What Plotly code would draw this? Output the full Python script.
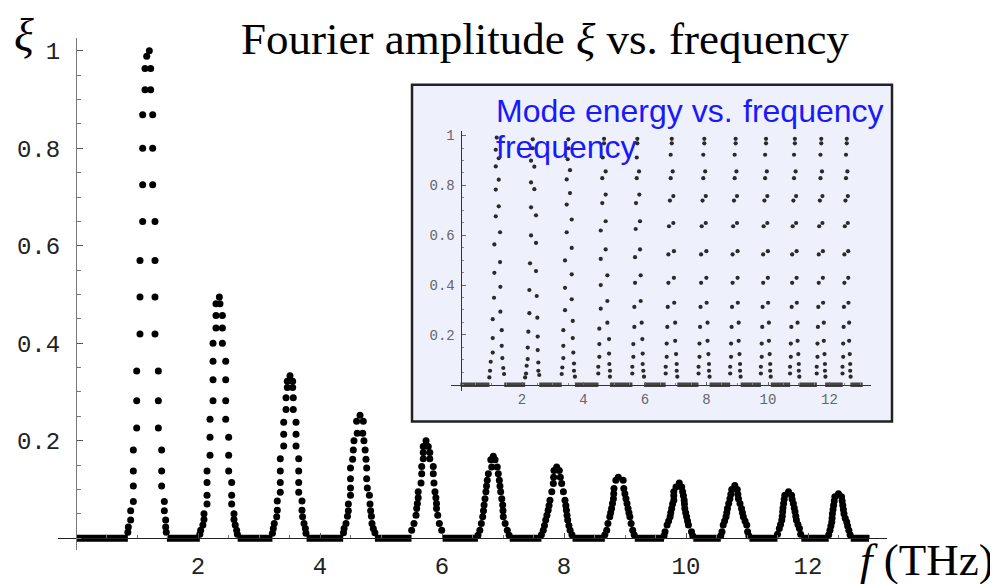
import plotly.graph_objects as go

# ---------------- main plot data (Fourier amplitude xi vs f in THz) ----------------
# each peak: levels (y) with the left-flank x and right-flank x of the dot at that level
main_y = [
    [1.0, 0.989, 0.964, 0.920, 0.869, 0.800, 0.725, 0.650, 0.570, 0.495, 0.419, 0.343, 0.282, 0.226, 0.181, 0.138, 0.107, 0.075, 0.056, 0.037, 0.023, 0.012],
    [0.495, 0.481, 0.457, 0.431, 0.400, 0.363, 0.325, 0.282, 0.244, 0.207, 0.170, 0.138, 0.114, 0.088, 0.070, 0.050, 0.038, 0.027, 0.016, 0.008],
    [0.333, 0.322, 0.309, 0.288, 0.264, 0.238, 0.213, 0.189, 0.163, 0.138, 0.114, 0.094, 0.076, 0.057, 0.044, 0.030, 0.020, 0.010],
    [0.252, 0.240, 0.215, 0.200, 0.181, 0.162, 0.144, 0.122, 0.103, 0.088, 0.070, 0.056, 0.045, 0.030, 0.020, 0.011],
    [0.200, 0.188, 0.176, 0.163, 0.147, 0.132, 0.113, 0.095, 0.083, 0.071, 0.061, 0.047, 0.030, 0.016],
    [0.168, 0.161, 0.146, 0.132, 0.119, 0.107, 0.095, 0.081, 0.068, 0.056, 0.044, 0.030, 0.016, 0.006],
    [0.146, 0.139, 0.125, 0.112, 0.095, 0.078, 0.067, 0.057, 0.047, 0.037, 0.026, 0.016, 0.007],
    [0.125, 0.119, 0.102, 0.091, 0.081, 0.071, 0.061, 0.052, 0.044, 0.030, 0.016, 0.007],
    [0.113, 0.105, 0.095, 0.087, 0.078, 0.070, 0.061, 0.052, 0.044, 0.035, 0.027, 0.013, 0.005],
    [0.108, 0.100, 0.090, 0.081, 0.071, 0.061, 0.052, 0.044, 0.035, 0.027, 0.013, 0.005],
    [0.095, 0.088, 0.080, 0.071, 0.062, 0.054, 0.045, 0.037, 0.028, 0.020, 0.008],
    [0.091, 0.085, 0.076, 0.0675, 0.059, 0.050, 0.041, 0.033, 0.025, 0.016, 0.007],
]
main_xl = [
    [1.202, 1.159, 1.131, 1.131, 1.093, 1.093, 1.093, 1.093, 1.049, 1.049, 1.049, 0.995, 0.995, 0.995, 0.94, 0.94, 0.94, 0.94, 0.896, 0.896, 0.858, 0.85],
    [2.35, 2.295, 2.295, 2.295, 2.246, 2.246, 2.246, 2.246, 2.197, 2.197, 2.197, 2.148, 2.148, 2.148, 2.148, 2.098, 2.098, 2.08, 2.044, 2.03],
    [3.508, 3.464, 3.464, 3.443, 3.443, 3.405, 3.405, 3.405, 3.349, 3.349, 3.349, 3.349, 3.30, 3.30, 3.29, 3.25, 3.235, 3.22],
    [4.656, 4.60, 4.61, 4.557, 4.546, 4.535, 4.50, 4.50, 4.50, 4.50, 4.465, 4.465, 4.45, 4.426, 4.395, 4.385],
    [5.738, 5.693, 5.693, 5.693, 5.667, 5.667, 5.656, 5.61, 5.61, 5.596, 5.585, 5.574, 5.541, 5.503],
    [6.841, 6.80, 6.815, 6.76, 6.742, 6.73, 6.72, 6.705, 6.69, 6.68, 6.667, 6.645, 6.62, 6.59],
    [7.88, 7.836, 7.83, 7.825, 7.80, 7.77, 7.755, 7.74, 7.72, 7.70, 7.68, 7.66, 7.63],
    [8.89, 8.85, 8.82, 8.815, 8.81, 8.795, 8.78, 8.765, 8.75, 8.72, 8.70, 8.67],
    [9.89, 9.836, 9.80, 9.80, 9.80, 9.78, 9.765, 9.75, 9.74, 9.715, 9.69, 9.656, 9.64],
    [10.80, 10.75, 10.735, 10.72, 10.70, 10.68, 10.668, 10.656, 10.633, 10.61, 10.59, 10.57],
    [11.68, 11.62, 11.61, 11.60, 11.59, 11.585, 11.578, 11.57, 11.55, 11.53, 11.50],
    [12.50, 12.44, 12.43, 12.42, 12.41, 12.40, 12.395, 12.39, 12.375, 12.36, 12.34],
]
main_xr = [
    [None, None, 1.224, 1.224, 1.257, 1.257, 1.257, 1.295, 1.295, 1.295, 1.295, 1.35, 1.35, 1.35, 1.404, 1.404, 1.404, 1.448, 1.448, 1.47, 1.47, 1.48],
    [None, 2.36, 2.40, 2.40, 2.40, 2.454, 2.454, 2.454, 2.454, 2.503, 2.503, 2.503, 2.552, 2.552, 2.552, 2.59, 2.59, 2.61, 2.634, 2.645],
    [None, 3.552, 3.552, 3.562, 3.562, 3.607, 3.607, 3.607, 3.651, 3.651, 3.651, 3.651, 3.705, 3.705, 3.715, 3.738, 3.76, 3.77],
    [None, 4.71, 4.70, 4.72, 4.74, 4.754, 4.765, 4.765, 4.776, 4.81, 4.82, 4.83, 4.843, 4.852, 4.874, 4.90],
    [None, 5.775, 5.80, 5.80, 5.857, 5.857, 5.868, 5.885, 5.90, 5.91, 5.91, 5.93, 5.956, 5.995],
    [None, 6.87, 6.906, 6.923, 6.94, 6.95, 6.962, 6.98, 6.995, 7.0, 7.005, 7.035, 7.07, 7.10],
    [None, 7.923, 7.94, 7.962, 7.99, 8.016, 8.03, 8.04, 8.05, 8.06, 8.08, 8.10, 8.13],
    [None, 8.97, 8.98, 8.998, 9.016, 9.033, 9.05, 9.065, 9.08, 9.10, 9.126, 9.15],
    [None, 9.93, 9.945, 9.958, 9.97, 9.975, 9.98, 9.995, 10.01, 10.025, 10.04, 10.09, 10.11],
    [None, 10.84, 10.85, 10.86, 10.885, 10.91, 10.925, 10.94, 10.968, 10.995, 11.01, 11.03],
    [None, 11.73, 11.74, 11.76, 11.775, 11.787, 11.80, 11.81, 11.835, 11.86, 11.88],
    [None, 12.55, 12.56, 12.57, 12.58, 12.59, 12.61, 12.635, 12.65, 12.67, 12.69],
]
# flat (xi ~ 0) stretches between the peaks
base_start = [0.0, 1.49, 2.65, 3.78, 4.90, 6.01, 7.11, 8.14, 9.16, 10.12, 11.04, 11.89, 12.70]
base_end = [0.85, 2.03, 3.22, 4.38, 5.50, 6.59, 7.63, 8.67, 9.64, 10.57, 11.50, 12.34, 13.0]

main_xticks = [2, 4, 6, 8, 10, 12]
main_yticks = [0.2, 0.4, 0.6, 0.8, 1]
main_ytext = ["0.2", "0.4", "0.6", "0.8", "1"]

# ---------------- inset data (mode energy vs frequency, normalised) ----------------
ins1_x = [1.177, 1.145, 1.242, 1.145, 1.242, 1.145, 1.242, 1.145, 1.285, 1.10, 1.285, 1.10, 1.295, 1.089, 1.295, 1.047, 1.34, 1.047, 1.34, 1.047, 1.36, 0.982, 1.39, 0.96, 1.415, 0.937]
ins1_y = [0.992, 0.943, 0.909, 0.876, 0.823, 0.783, 0.716, 0.676, 0.612, 0.563, 0.492, 0.449, 0.393, 0.349, 0.293, 0.263, 0.219, 0.187, 0.156, 0.129, 0.107, 0.092, 0.067, 0.056, 0.043, 0.029]
ins2_x = [2.348, 2.348, 2.293, 2.40, 2.293, 2.40, 2.293, 2.455, 2.293, 2.455, 2.26, 2.455, 2.238, 2.478, 2.238, 2.498, 2.205, 2.51, 2.185, 2.51, 2.185, 2.53, 2.15, 2.53, 2.13, 2.56, 2.10]
ins2_y = [0.985, 0.949, 0.899, 0.875, 0.812, 0.785, 0.712, 0.68, 0.599, 0.569, 0.487, 0.456, 0.38, 0.356, 0.287, 0.269, 0.213, 0.193, 0.149, 0.139, 0.103, 0.089, 0.076, 0.056, 0.045, 0.039, 0.029]
ins3_x = [3.507, 3.507, 3.485, 3.56, 3.453, 3.56, 3.453, 3.616, 3.453, 3.616, 3.398, 3.616, 3.398, 3.616, 3.398, 3.65, 3.343, 3.65, 3.343, 3.668, 3.343, 3.69, 3.31, 3.69, 3.29, 3.72]
ins3_y = [0.985, 0.949, 0.905, 0.861, 0.824, 0.769, 0.723, 0.663, 0.612, 0.549, 0.499, 0.443, 0.389, 0.343, 0.299, 0.256, 0.219, 0.187, 0.156, 0.129, 0.107, 0.085, 0.069, 0.056, 0.043, 0.032]
ins4_x = [4.667, 4.667, 4.624, 4.72, 4.61, 4.72, 4.61, 4.72, 4.56, 4.72, 4.56, 4.775, 4.56, 4.775, 4.56, 4.775, 4.514, 4.83, 4.514, 4.83, 4.514, 4.84, 4.48, 4.86, 4.48, 4.86]
ins4_y = [0.987, 0.969, 0.912, 0.856, 0.829, 0.763, 0.729, 0.656, 0.619, 0.543, 0.505, 0.439, 0.40, 0.336, 0.305, 0.249, 0.225, 0.183, 0.163, 0.125, 0.112, 0.083, 0.072, 0.056, 0.045, 0.032]
ins5_x = [5.75, 5.75, 5.73, 5.805, 5.73, 5.815, 5.707, 5.837, 5.697, 5.837, 5.675, 5.86, 5.675, 5.86, 5.653, 5.892, 5.653, 5.913, 5.62, 5.924, 5.62, 5.924, 5.587, 5.945, 5.587, 5.967]
ins5_y = [0.987, 0.969, 0.912, 0.856, 0.829, 0.763, 0.729, 0.656, 0.625, 0.543, 0.512, 0.439, 0.409, 0.336, 0.312, 0.249, 0.232, 0.183, 0.163, 0.125, 0.112, 0.083, 0.072, 0.056, 0.045, 0.032]
# the narrower high-frequency peaks (6..12) share one profile: levels and flank offsets
late_y = [0.987, 0.969, 0.923, 0.856, 0.829, 0.757, 0.739, 0.649, 0.636, 0.536, 0.523, 0.429, 0.409, 0.329, 0.312, 0.249, 0.232, 0.176, 0.165, 0.123, 0.112, 0.083, 0.072, 0.056, 0.045, 0.032]
late_dx = [0.03, 0.03, -0.005, 0.06, -0.005, 0.08, -0.03, 0.08, -0.06, 0.10, -0.08, 0.10, -0.08, 0.11, -0.10, 0.14, -0.115, 0.14, -0.135, 0.17, -0.135, 0.19, -0.167, 0.19, -0.167, 0.21]
late_c = [6.84, 7.90, 8.92, 9.91, 10.85, 11.71, 12.54]
late_w = [1.0, 0.95, 0.9, 0.85, 0.8, 0.75, 0.7]
ins_base_start = [0.0, 1.42, 2.56, 3.72, 4.86, 5.97, 7.05, 8.10, 9.11, 10.09, 11.02, 11.86, 12.68]
ins_base_end = [0.94, 2.10, 3.29, 4.48, 5.59, 6.67, 7.74, 8.77, 9.77, 10.72, 11.59, 12.43, 13.08]

ins_xticks = [2, 4, 6, 8, 10, 12]
ins_yticks = [0.2, 0.4, 0.6, 0.8, 1]
ins_ytext = ["0.2", "0.4", "0.6", "0.8", "1"]

# ---------------- build traces ----------------
mx, my = [], []
for ys, xl, xr in zip(main_y, main_xl, main_xr):
    for y, a, b in zip(ys, xl, xr):
        mx.append(a); my.append(y)
        if b is not None:
            mx.append(b); my.append(y)

bx, by = [], []
for s, e in zip(base_start, base_end):
    bx += [s, e, None]; by += [0, 0, None]

ix = ins1_x + ins2_x + ins3_x + ins4_x + ins5_x
iy = ins1_y + ins2_y + ins3_y + ins4_y + ins5_y
for c, w in zip(late_c, late_w):
    for y, d in zip(late_y, late_dx):
        ix.append(c + d * w); iy.append(y)

ibx, iby = [], []
for s, e in zip(ins_base_start, ins_base_end):
    ibx += [s, e, None]; iby += [0, 0, None]

# the page body keeps its default 8px margin, so the figure is sized to fit inside the window
OFF = 8
W, H = 998 - OFF, 584 - OFF

def fx(px):
    return (px - OFF) / W

def fy(py):
    return 1 - (py - OFF) / H

fig = go.Figure()
fig.add_trace(go.Scatter(x=bx, y=by, mode="lines", line=dict(color="black", width=7),
                         hoverinfo="skip", showlegend=False))
fig.add_trace(go.Scatter(x=mx, y=my, mode="markers", marker=dict(color="black", size=7),
                         showlegend=False))
fig.add_trace(go.Scatter(x=ibx, y=iby, mode="lines", line=dict(color="#444", width=4.5),
                         xaxis="x2", yaxis="y2", hoverinfo="skip", showlegend=False))
fig.add_trace(go.Scatter(x=ix, y=iy, mode="markers", marker=dict(color="#2a2a2a", size=4.2),
                         xaxis="x2", yaxis="y2", showlegend=False))

# ---------------- axes ----------------
mxr = [-0.3, 13.3]; myr = [-0.025, 1.026]
mxd = [fx(57.7), fx(887.3)]; myd = [fy(550.2), fy(36.3)]
ixr = [-0.32, 13.34]; iyr = [-0.024, 1.02]
ixd = [fx(450.7), fx(870.7)]; iyd = [fy(390), fy(129)]

def pos(rng, dom):
    return dom[0] + (0 - rng[0]) / (rng[1] - rng[0]) * (dom[1] - dom[0])

tick_main = dict(family="Liberation Mono", size=24, color="#222")
tick_ins = dict(family="Liberation Mono", size=14, color="#666")

fig.update_layout(
    width=W, height=H, margin=dict(l=0, r=0, t=0, b=0),
    paper_bgcolor="white", plot_bgcolor="rgba(0,0,0,0)",
    xaxis=dict(domain=mxd, range=mxr, anchor="free", position=pos(myr, myd),
               showgrid=False, zeroline=False, showline=True, linecolor="#222", linewidth=1,
               tickmode="array", tickvals=main_xticks, ticks="inside", ticklen=5,
               tickcolor="#555", tickfont=tick_main, ticklabelstandoff=6,
               minor=dict(dtick=0.5, tick0=0, ticks="inside", ticklen=3, tickcolor="#777")),
    yaxis=dict(domain=myd, range=myr, anchor="free", position=pos(mxr, mxd),
               showgrid=False, zeroline=False, showline=True, linecolor="#777", linewidth=1,
               tickmode="array", tickvals=main_yticks, ticktext=main_ytext, ticks="inside",
               ticklen=6, tickcolor="#555", tickfont=tick_main, ticklabelstandoff=11,
               minor=dict(dtick=0.05, tick0=0, ticks="inside", ticklen=4, tickcolor="#777")),
    xaxis2=dict(domain=ixd, range=ixr, anchor="free", position=pos(iyr, iyd),
                showgrid=False, zeroline=False, showline=True, linecolor="#333", linewidth=1,
                tickmode="array", tickvals=ins_xticks, ticks="inside", ticklen=3,
                tickcolor="#666", tickfont=tick_ins, ticklabelstandoff=2,
                minor=dict(dtick=0.5, tick0=0, ticks="inside", ticklen=2, tickcolor="#888")),
    yaxis2=dict(domain=iyd, range=iyr, anchor="free", position=pos(ixr, ixd),
                showgrid=False, zeroline=False, showline=True, linecolor="#333", linewidth=1,
                tickmode="array", tickvals=ins_yticks, ticktext=ins_ytext, ticks="inside",
                ticklen=4, tickcolor="#666", tickfont=tick_ins, ticklabelstandoff=3,
                minor=dict(dtick=0.05, tick0=0, ticks="inside", ticklen=2, tickcolor="#888")),
)

# inset panel
fig.add_shape(type="rect", xref="paper", yref="paper", layer="below",
              x0=fx(412), x1=fx(892), y0=fy(421), y1=fy(83),
              fillcolor="#eef0fc", line=dict(color="#222", width=2.5))

serif = "Liberation Serif"
blue = "rgb(25,25,255)"

def ann(text, x, y, size, color="black", family=serif, xanchor="center"):
    fig.add_annotation(text=text, x=fx(x), y=fy(y), xref="paper", yref="paper",
                       showarrow=False, xanchor=xanchor, yanchor="middle",
                       font=dict(family=family, size=size, color=color))

ann("Fourier amplitude <i>ξ</i> vs. frequency", 545, 37, 45)
ann("<i>ξ</i>", 24, 34, 46)
ann("<i>f</i> (THz)", 996, 560, 45, xanchor="right")
ann("Mode energy vs.", 494, 109, 32, blue, "Liberation Sans", "left")
ann("frequency", 741, 109, 32, blue, "Liberation Sans", "left")
ann("frequency", 494, 145, 32, blue, "Liberation Sans", "left")

fig.write_html("out.html")
